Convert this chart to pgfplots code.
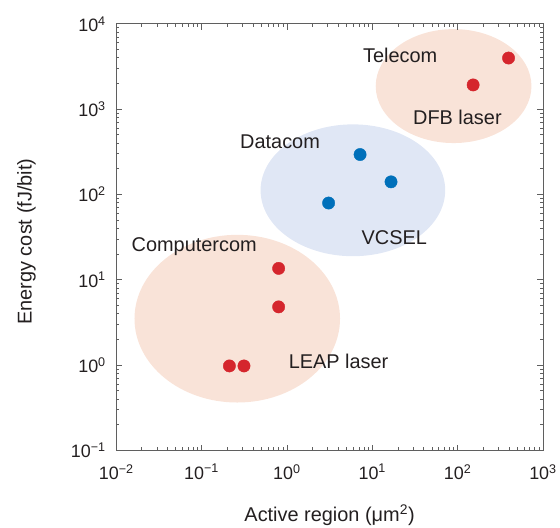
\documentclass[border=0pt]{standalone}
\usepackage{fontspec}
\setmainfont{Liberation Sans}
\usepackage{pgfplots}
\pgfplotsset{compat=1.18}
\definecolor{peach}{RGB}{249,227,216}
\definecolor{lblue}{RGB}{224,231,245}
\definecolor{dred}{RGB}{213,38,45}
\definecolor{dblue}{RGB}{0,112,186}
\definecolor{axgray}{RGB}{95,95,95}
\definecolor{txt}{RGB}{35,31,32}
\begin{document}
\begin{tikzpicture}
\begin{axis}[
  scale only axis, width=428.6pt, height=428.3pt,
  xmode=log, ymode=log,
  xmin=1e-2, xmax=1e3, ymin=1e-1, ymax=1e4,
  xtick={1e-2,1e-1,1,10,100,1000},
  xticklabels={10\textsuperscript{−2},10\textsuperscript{−1},10\textsuperscript{0},10\textsuperscript{1},10\textsuperscript{2},10\textsuperscript{3}},
  ytick={1e-1,1,10,100,1000,10000},
  yticklabels={10\textsuperscript{−1},10\textsuperscript{0},10\textsuperscript{1},10\textsuperscript{2},10\textsuperscript{3},10\textsuperscript{4}},
  axis line style={axgray, line width=0.8pt},
  tick style={axgray, line width=0.8pt},
  major tick length=5.7pt, minor tick length=3.3pt,
  ticklabel style={txt, font=\fontsize{18}{21}\selectfont},
  xticklabel style={yshift=-10.5pt},
  yticklabel style={xshift=-7pt},
  clip=false, axis on top,
]
\fill[peach] (axis cs:89.7,1866) ellipse [x radius=78.2pt, y radius=57.2pt];
\fill[lblue] (axis cs:5.93,112) ellipse [x radius=92.7pt, y radius=66.2pt];
\fill[peach] (axis cs:0.262,3.50) ellipse [x radius=103.2pt, y radius=84.2pt];

\addplot[only marks, mark=*, mark size=6.2pt, color=dred, mark options={draw=none, fill=dred}]
  coordinates {(395,3980) (152,1925) (0.80,13.6) (0.80,4.81) (0.212,0.977) (0.314,0.977)};
\addplot[only marks, mark=*, mark size=6.2pt, color=dblue, mark options={draw=none, fill=dblue}]
  coordinates {(7.2,294) (16.6,140.6) (3.08,79.4)};

\begin{scope}[every node/.style={txt, font=\fontsize{20}{24}\selectfont, anchor=base, inner sep=0pt}]
\node at (axis cs:21.2,3532) {Telecom};
\node at (axis cs:99.4,662) {DFB laser};
\node at (axis cs:0.831,347.6) {Datacom};
\node at (axis cs:18.1,25.9) {VCSEL};
\node at (axis cs:0.082,21.4) {Computercom};
\node at (axis cs:4.03,0.90) {LEAP laser};
\node at ([yshift=-71.7pt]rel axis cs:0.5,0) {Active region (μm\textsuperscript{2})};
\node[rotate=90] at ([xshift=-85pt]rel axis cs:0,0.4895) {Energy cost (fJ/bit)};
\end{scope}
\coordinate (bl) at (rel axis cs:0,0);
\coordinate (tr) at (rel axis cs:1,1);
\end{axis}
\path ([shift={(-116.7pt,-77.7pt)}]bl) rectangle ([shift={(14.7pt,24pt)}]tr);
\end{tikzpicture}
\end{document}
